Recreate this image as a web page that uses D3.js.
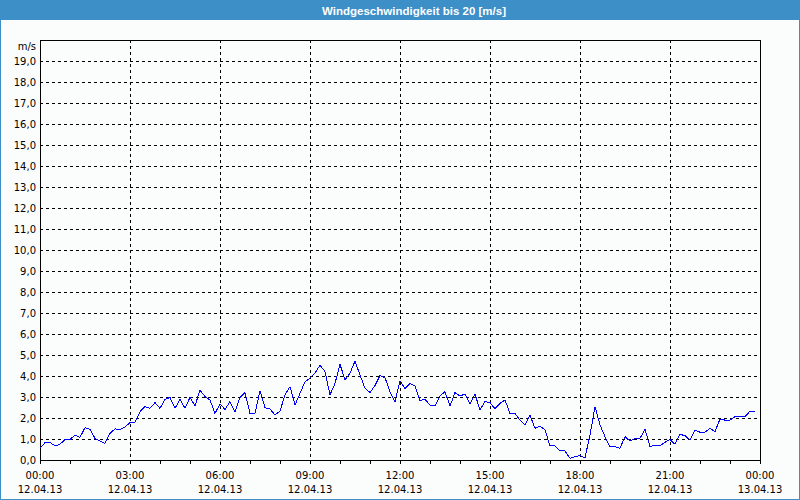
<!DOCTYPE html>
<html>
<head>
<meta charset="utf-8">
<script src="https://cdn.jsdelivr.net/npm/d3@7"></script>
<style>
html,body{margin:0;padding:0;background:#fff;}
svg{display:block;}
</style>
</head>
<body>
<svg id="chart" width="800" height="500"></svg>
<script>
// ---- data ----
const title = "Windgeschwindigkeit bis 20 [m/s]";
const unitLabel = "m/s";
const startTime = "2013-04-12T00:00:00";
const endTime = "2013-04-13T00:00:00";
const stepMinutes = 10;
// wind speed [m/s], one value every 10 minutes from 00:00
const windSpeed = [
  0.56, 0.83, 0.84, 0.67, 0.75, 0.98, 0.98, 1.18, 1.08, 1.54, 1.46, 1.03, 0.90, 0.79, 1.27, 1.48, 1.46, 1.57,
  1.78, 1.79, 2.30, 2.54, 2.46, 2.73, 2.46, 2.89, 2.98, 2.46, 2.89, 2.46, 2.98, 2.57, 3.33, 3.02, 2.86, 2.22,
  2.67, 2.41, 2.78, 2.30, 2.97, 3.21, 2.22, 2.22, 3.29, 2.49, 2.43, 2.14, 2.33, 3.10, 3.49, 2.62, 3.17, 3.73,
  3.89, 4.13, 4.52, 4.21, 3.10, 3.65, 4.56, 3.81, 4.13, 4.71, 4.05, 3.41, 3.22, 3.54, 4.02, 3.92, 3.25, 2.78,
  3.77, 3.41, 3.65, 3.52, 2.83, 2.89, 2.62, 2.57, 3.05, 3.25, 2.57, 3.21, 3.05, 3.14, 2.67, 3.13, 2.38, 2.78,
  2.73, 2.44, 2.70, 2.86, 2.22, 2.22, 1.90, 1.67, 2.13, 1.51, 1.62, 1.43, 0.67, 0.68, 0.43, 0.43, 0.08, 0.16,
  0.21, 0.11, 1.19, 2.54, 1.67, 1.11, 0.63, 0.63, 0.56, 1.11, 0.90, 1.03, 1.03, 1.46, 0.63, 0.71, 0.68, 0.84,
  0.98, 0.75, 1.22, 1.16, 0.95, 1.43, 1.32, 1.32, 1.51, 1.35, 1.95, 1.90, 1.90, 2.06, 2.06, 2.06, 2.33, 2.33
];
const yTicks = [0,1,2,3,4,5,6,7,8,9,10,11,12,13,14,15,16,17,18,19];
const yGrid = [1,2,3,4,5,6,7,8,9,10,11,12,13,14,15,16,17,18,19];
const xLabelHours = [0,3,6,9,12,15,18,21,24];
const xMinorHours = d3.range(0,25);

// ---- layout ----
const W = 800, H = 500;
const m = {left:40, right:40, top:40, bottom:40};
const svg = d3.select("#chart");
const t0 = new Date(startTime), t1 = new Date(endTime);
const data = windSpeed.map((v,i)=>({t:new Date(t0.getTime()+i*stepMinutes*60000), v}));

const x = d3.scaleTime().domain([t0,t1]).range([m.left, W-m.right]);
const y = d3.scaleLinear().domain([0,20]).range([H-m.bottom, m.top]);
const hourDate = h => new Date(t0.getTime()+h*3600000);

const blue = "#3c8fc7";
svg.append("rect").attr("x",0.5).attr("y",0.5).attr("width",W-1).attr("height",H-1)
  .attr("fill","#fbfdfd").attr("stroke",blue);
svg.append("rect").attr("x",0).attr("y",0).attr("width",W).attr("height",20).attr("fill",blue);
svg.append("text").attr("x",414).attr("y",14.5).attr("text-anchor","middle")
  .attr("font-family","Liberation Sans, Arial, sans-serif").attr("font-weight","bold")
  .attr("font-size","11.5px").attr("fill","#fff").text(title);

const font = "DejaVu Sans, Verdana, sans-serif";
const loc = d3.formatLocale({decimal:",", thousands:".", grouping:[3], currency:["","€"]});
const fmt = loc.format(".1f");

// grid
const g = svg.append("g").attr("shape-rendering","crispEdges");
g.selectAll(".hg").data(yGrid).join("line")
  .attr("x1",m.left).attr("x2",W-m.right)
  .attr("y1",d=>Math.round(y(d))+0.5).attr("y2",d=>Math.round(y(d))+0.5)
  .attr("stroke","#000").attr("stroke-dasharray","3,3");
g.selectAll(".vg").data(xLabelHours.slice(1,-1)).join("line")
  .attr("x1",d=>Math.round(x(hourDate(d)))+0.5).attr("x2",d=>Math.round(x(hourDate(d)))+0.5)
  .attr("y1",m.top).attr("y2",H-m.bottom)
  .attr("stroke","#000").attr("stroke-dasharray","3,3");

// x minor ticks
g.selectAll(".xt").data(xMinorHours).join("line")
  .attr("x1",d=>Math.round(x(hourDate(d)))+0.5).attr("x2",d=>Math.round(x(hourDate(d)))+0.5)
  .attr("y1",H-m.bottom).attr("y2",H-m.bottom+4).attr("stroke","#000");

// frame
g.append("rect").attr("x",m.left+0.5).attr("y",m.top+0.5)
  .attr("width",W-m.left-m.right).attr("height",H-m.top-m.bottom)
  .attr("fill","none").attr("stroke","#000");

// y labels
svg.selectAll(".yl").data(yTicks).join("text")
  .attr("x",36).attr("y",d=>y(d)+4)
  .attr("text-anchor","end").attr("font-family",font).attr("font-size","10px").attr("fill","#000")
  .text(d=>fmt(d));
svg.append("text").attr("x",36).attr("y",50).attr("text-anchor","end")
  .attr("font-family",font).attr("font-size","10px").text(unitLabel);

// x labels
const tf = d3.timeFormat("%H:%M"), df = d3.timeFormat("%d.%m.%y");
const xl = svg.selectAll(".xl").data(xLabelHours).join("text")
  .attr("text-anchor","middle").attr("font-family",font).attr("font-size","10px").attr("fill","#000");
xl.append("tspan").attr("x",d=>x(hourDate(d))).attr("y",479).text(d=>tf(hourDate(d)));
xl.append("tspan").attr("x",d=>x(hourDate(d))).attr("y",493).text(d=>df(hourDate(d)));

// line
const line = d3.line().x(d=>x(d.t)).y(d=>y(d.v));
svg.append("path").datum(data).attr("d",line)
  .attr("fill","none").attr("stroke","#0000ff").attr("stroke-width",1)
  .attr("shape-rendering","crispEdges");
</script>
</body>
</html>
